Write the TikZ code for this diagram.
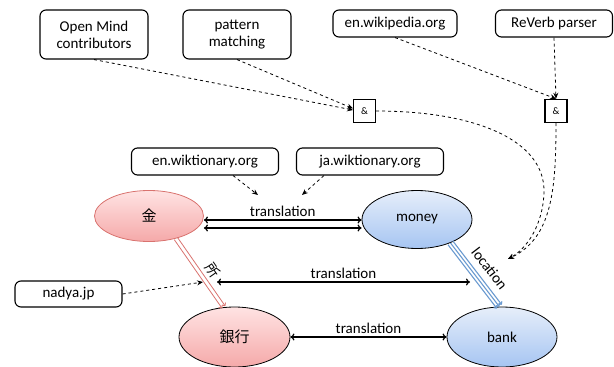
\documentclass[tikz,border=0pt]{standalone}
\usepackage{fontspec}
\setmainfont{Carlito}
\newfontfamily\cjk{Noto Sans CJK JP}
\usetikzlibrary{shapes.geometric,arrows.meta,calc}
\definecolor{pinktop}{HTML}{FFE3E3}
\definecolor{pinkbot}{HTML}{F5A9A9}
\definecolor{pinkline}{HTML}{D9736F}
\definecolor{bluetop}{HTML}{E6EEFA}
\definecolor{bluebot}{HTML}{A6C5F2}
\definecolor{blueline}{HTML}{6A9AD0}
\tikzset{
  srcbox/.style={draw, line width=1.1pt, rounded corners=6pt, inner sep=0pt, align=center, font=\fontsize{15}{17}\selectfont},
  andbox/.style={draw, line width=1.4pt, minimum width=22pt, minimum height=23pt, inner sep=0pt, font=\fontsize{10}{12}\rmfamily},
  jnode/.style={ellipse, draw=pinkline, line width=0.8pt, top color=pinktop, bottom color=pinkbot, inner sep=0pt, font=\fontsize{15}{17}\cjk},
  jnodeb/.style={jnode, draw=black},
  enode/.style={ellipse, draw=black, line width=0.8pt, top color=bluetop, bottom color=bluebot, inner sep=0pt, font=\fontsize{15}{17}\selectfont},
  dasharr/.style={dashed, line width=0.8pt, -{Stealth[length=6pt,width=5pt]}},
  transarr/.style={line width=1.2pt, {To[length=4pt,width=7pt]}-{To[length=4pt,width=7pt]}},
  lbl/.style={font=\fontsize{15}{17}\selectfont, inner sep=1pt},
  redarr/.style={draw=pinkline, line width=0.8pt, -{To[length=3pt,width=5pt]}},
  bluearr/.style={draw=blueline, line width=1.1pt, -{To[length=3pt,width=5pt]}},
}
\begin{document}
\begin{tikzpicture}[x=1pt,y=-1pt]
\useasboundingbox (0,0) rectangle (614,367);
% source boxes
\node[srcbox, minimum width=108pt, minimum height=49pt] (om) at (94,34.5) {Open Mind\\contributors};
\node[srcbox, minimum width=108pt, minimum height=49pt] (pm) at (237,34.5) {pattern\\matching};
\node[srcbox, minimum width=124pt, minimum height=27pt] (wp) at (395,23.5) {en.wikipedia.org};
\node[srcbox, minimum width=117pt, minimum height=27pt] (rv) at (554,23.5) {ReVerb parser};
\node[srcbox, minimum width=147pt, minimum height=27pt] (ewk) at (205,161.5) {en.wiktionary.org};
\node[srcbox, minimum width=147pt, minimum height=27pt] (jwk) at (370,161.5) {ja.wiktionary.org};
\node[srcbox, minimum width=107pt, minimum height=26pt] (nd) at (68.5,294) {nadya.jp};
% and boxes
\node[andbox] (andL) at (364.5,111) {\&};
\node[andbox] (andR) at (556,111) {\&};
% concept nodes
\node[jnode, minimum width=109pt, minimum height=51pt] (kin) at (149,216) {金};
\node[enode, minimum width=110pt, minimum height=58pt] (money) at (417,219.5) {money};
\node[jnodeb, minimum width=111pt, minimum height=60pt] (ginko) at (234.5,337) {銀行};
\node[enode, minimum width=110pt, minimum height=60pt] (bank) at (502,337) {bank};
% coordinates
\coordinate (trL) at (217,282);
\coordinate (trR) at (470,282);
\coordinate (ewkT) at (258,195);
\coordinate (jwkT) at (302,195);
\coordinate (ndT) at (203,282);
\coordinate (locT) at (508,259);
\coordinate (andLin) at (353,110);
\coordinate (andLin2) at (353,108.5);
% translation arrows
\draw[transarr] ($(kin.east)+(0,4)$) -- node[lbl, above=2pt] (tr1) {translation} ($(money.west)+(0,0.5)$);
\draw[transarr] ($(kin.east)+(0,12)$) -- ($(money.west)+(0,8.5)$);
\draw[transarr] (trL) -- node[lbl, above=2pt] (tr2) {translation} (trR);
\draw[transarr] (ginko) -- node[lbl, above=2pt] (tr3) {translation} (bank);
% red double edge
\draw[redarr, transform canvas={shift={(-1.6,1.1)}}] (kin.-40) -- (ginko.110);
\draw[redarr, transform canvas={shift={(1.6,-1.1)}}] (kin.-40) -- (ginko.110);
\path (kin.-40) -- node[pos=0.56, sloped, above=6pt, font=\fontsize{14}{16}\cjk, inner sep=0pt] (sho) {所} (ginko.110);
% blue triple edge
\draw[bluearr, transform canvas={shift={(-2.4,1.9)}}] (money.-35) -- (bank.95);
\draw[bluearr] (money.-35) -- (bank.95);
\draw[bluearr, transform canvas={shift={(2.4,-1.9)}}] (money.-35) -- (bank.95);
\path (money.-35) -- node[pos=0.55, sloped, above=10pt, lbl, inner sep=0pt] (loc) {location} (bank.95);
% dashed provenance arrows
\draw[dasharr] (om.south) -- (andLin);
\draw[dasharr] (pm.south) -- (andLin2);
\draw[dasharr] (wp.south) -- (andR.north);
\draw[dasharr] (rv.south) -- (andR.north);
\draw[dasharr] (ewk.south east) ++(-46,0) coordinate (ewkS) -- (ewkT);
\draw[dasharr] (jwk.south west) ++(28,0) coordinate (jwkS) -- (jwkT);
\draw[dasharr] (nd.east) -- (ndT);
% curves from & boxes to location edge
\draw[dasharr] (andL.east) .. controls (475,111) and (545,140) .. (544,192)
   .. controls (543,226) and (526,249) .. (locT);
\draw[dasharr] (andR.south) .. controls (556,190) and (552,238) .. (locT);
\end{tikzpicture}
\end{document}
